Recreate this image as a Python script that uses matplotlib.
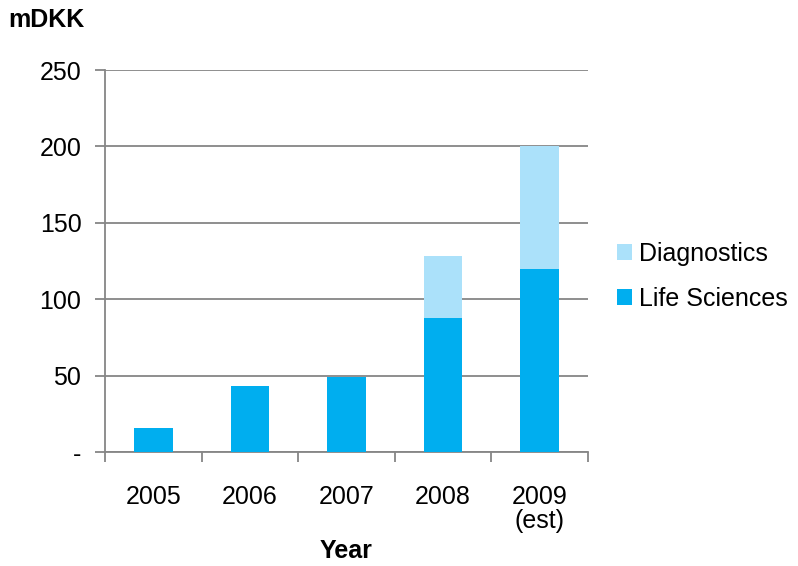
import numpy as np
from matplotlib import pyplot as plt

years = ['2005', '2006', '2007', '2008', '2009\n(est)']
life_sciences = [16, 43, 49, 88, 120]
diagnostics = [0, 0, 0, 40, 80]

plt.rcParams['font.family'] = ['Liberation Sans', 'DejaVu Sans']
plt.rcParams['font.size'] = 18

grey = '#868686'
fig = plt.figure(figsize=(7.98, 5.66), dpi=100)
ax = fig.add_axes([0.1316, 0.2014, 0.6053, 0.6749])

x = np.arange(len(years))
ls = ax.bar(x, life_sciences, width=0.4, color='#00AEEF', zorder=3)
dg = ax.bar(x, diagnostics, width=0.4, bottom=life_sciences, color='#ABE1FA', zorder=3)

ax.set_xlim(-0.5, len(years) - 0.5)
ax.set_ylim(0, 250)
ax.set_yticks([0, 50, 100, 150, 200, 250])
ax.set_yticklabels(['-', '50', '100', '150', '200', '250'])
ax.yaxis.grid(True, color=grey, linewidth=1.3, zorder=0)

ax.set_xticks(x)
ax.set_xticklabels(years, linespacing=1.0, va='top')
ax.set_xticks(np.arange(-0.5, len(years)), minor=True)
ax.tick_params(axis='x', which='major', length=0, pad=24)
ax.tick_params(axis='x', which='minor', length=7, color=grey, width=1.3)
ax.tick_params(axis='y', length=7, color=grey, width=1.3, pad=10)

for side in ['top', 'right']:
    ax.spines[side].set_visible(False)
for side in ['left', 'bottom']:
    ax.spines[side].set_color(grey)
    ax.spines[side].set_linewidth(1.3)

ax.set_xlabel('Year', fontweight='bold', labelpad=4)
fig.text(0.01, 0.965, 'mDKK', fontweight='bold', ha='left', va='center')

leg = ax.legend([dg, ls], ['Diagnostics', 'Life Sciences'], loc='center left',
                bbox_to_anchor=(1.04, 0.46), frameon=False, handlelength=0.6,
                handleheight=0.6, handletextpad=0.25, labelspacing=0.85,
                borderaxespad=0)

fig.savefig('out.png', dpi=100)
